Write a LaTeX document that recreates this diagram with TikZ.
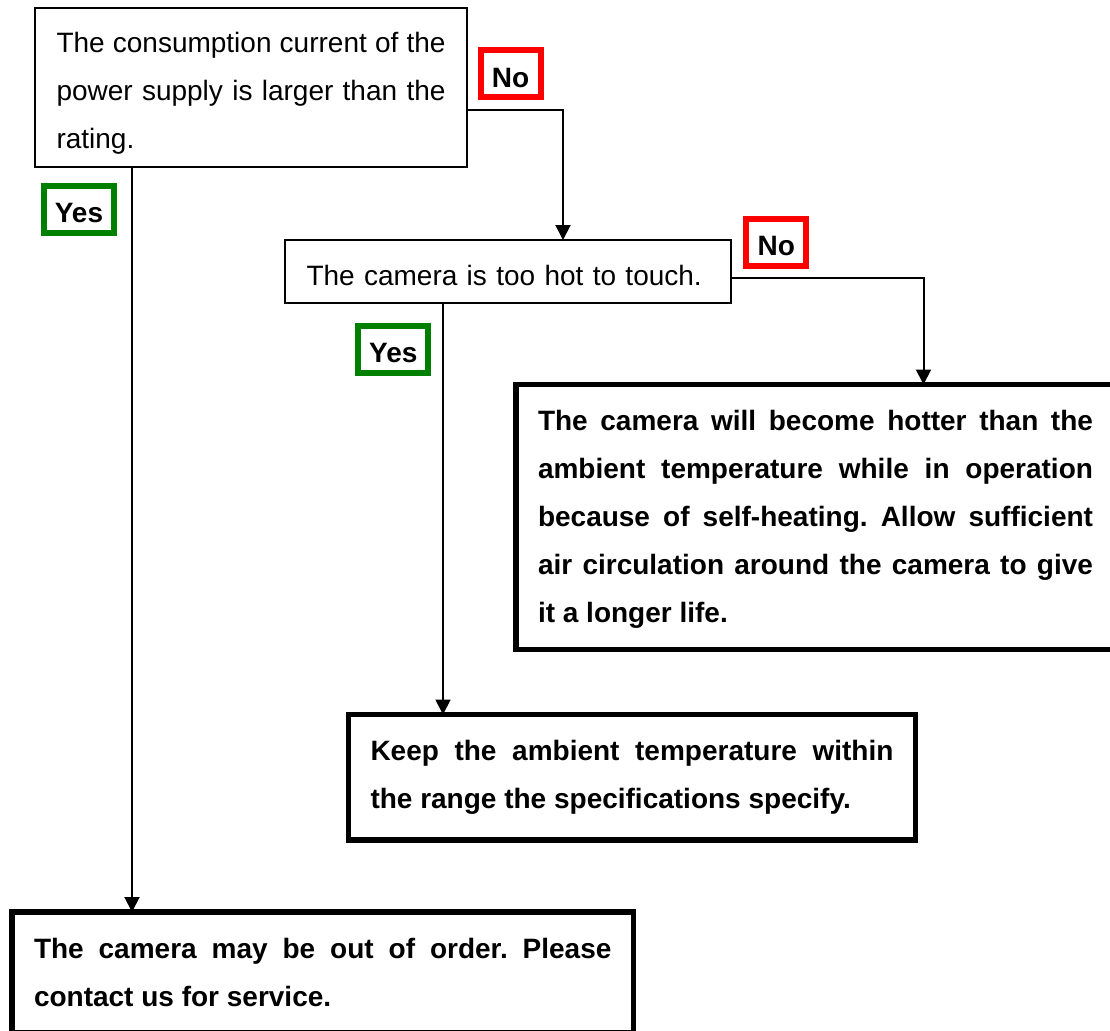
\documentclass[tikz,border=0pt]{standalone}
\usepackage{fontspec}
\setmainfont{Liberation Sans}
\usetikzlibrary{arrows.meta,positioning}
\tolerance=9999
\hbadness=10000
\frenchspacing

\begin{document}
\begin{tikzpicture}[x=1pt, y=-1pt, line width=2pt,
    every node/.style = {font=\fontsize{28}{48}\selectfont, inner ysep=0pt, outer sep=0pt},
    check/.style = {draw, line width=2pt, anchor=north west, inner xsep=21.5pt, align=justify},
    answer/.style = {draw, line width=5.5pt, anchor=north west, inner xsep=22pt, align=justify, font=\fontsize{28}{48}\selectfont\bfseries},
    yeslabel/.style = {draw=green!50!black, line width=6pt, minimum width=70pt, minimum height=47pt, text height=26.5pt, text depth=0pt, inner xsep=0pt, font=\fontsize{28}{48}\selectfont\bfseries},
    nolabel/.style = {yeslabel, draw=red, minimum width=60pt},
    arr/.style = {-{Triangle[width=15pt,length=15pt]}}]
    \path[use as bounding box, fill=white] (0,0) rectangle (1110,1030);
    \clip (0,0) rectangle (1110,1030);

    \node[check, text width=389pt, text height=45pt, text depth=114pt] (check1) at (35,8) {The consumption current of the\linebreak power supply is larger than the\linebreak rating.};
    \node[check, text width=403pt, align=left, text height=45pt, text depth=18pt] (check2) at (285,240) {The camera is too hot to touch.};
    \node[answer, text width=555pt, text height=45.5pt, text depth=219.5pt] (fix1) at (516,384.5) {The camera will become hotter than the\linebreak ambient temperature while in operation\linebreak because of self-heating. Allow sufficient\linebreak air circulation around the camera to give\linebreak it a longer life.};
    \node[answer, text width=523pt, text height=45.5pt, text depth=80pt] (fix2) at (348.5,714.5) {Keep the ambient temperature within\linebreak the range the specifications specify.};
    \node[answer, text width=577.5pt, text height=46pt, text depth=75pt] (fix3) at (12,912) {The camera may be out of order. Please\linebreak contact us for service.};

    \node[nolabel] (no1) at (510.5,74) {No};
    \node[yeslabel] (yes1) at (79,209) {Yes};
    \node[nolabel] (no2) at (776.3,242.5) {No};
    \node[yeslabel] (yes2) at (393.3,349.5) {Yes};

    \draw[arr] ([yshift=-22.5pt]check1.east) -| ([xshift=55pt]check2.north);
    \draw[arr] ([xshift=-119pt]check1.south) -- ([xshift=-190.75pt]fix3.north);
    \draw[arr] ([yshift=-6.5pt]check2.east) -| ([xshift=108pt]fix1.north);
    \draw[arr] ([xshift=-65pt]check2.south) -- ([xshift=-189pt]fix2.north);
\end{tikzpicture}
\end{document}
